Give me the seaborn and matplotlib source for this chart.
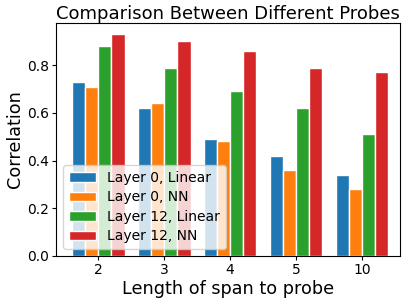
import pandas as pd
import matplotlib
matplotlib.use('Agg')
import matplotlib.pyplot as plt
import seaborn as sns

# Значения
spans = ['2', '3', '4', '5', '10']
layer0_linear = [0.73, 0.62, 0.49, 0.42, 0.34]
layer0_nn = [0.71, 0.64, 0.48, 0.36, 0.28]
layer12_linear = [0.88, 0.79, 0.69, 0.62, 0.51]
layer12_nn = [0.93, 0.90, 0.86, 0.79, 0.77]
probes = ['Layer 0, Linear', 'Layer 0, NN', 'Layer 12, Linear', 'Layer 12, NN']

series = [layer0_linear, layer0_nn, layer12_linear, layer12_nn]
df = pd.DataFrame([
    {'span': s, 'probe': p, 'corr': v}
    for p, vals in zip(probes, series)
    for s, v in zip(spans, vals)
])

fig, ax = plt.subplots(figsize=(4.03, 3.0), dpi=100)
sns.barplot(data=df, x='span', y='corr', hue='probe', order=spans,
            hue_order=probes, palette=sns.color_palette('tab10', 4),
            edgecolor='white', linewidth=1, saturation=1, ax=ax)

ax.set_xlim(-0.64, 4.58)
ax.set_title('Comparison Between Different Probes', fontsize=13, pad=3)
ax.set_xlabel('Length of span to probe', fontsize=12.7, labelpad=2)
ax.set_ylabel('Correlation', fontsize=12.7, labelpad=2)
ax.tick_params(labelsize=10, length=3, pad=2)
ax.legend(loc='lower left', fontsize=10, labelspacing=0.4)

fig.subplots_adjust(left=0.139, right=0.993, top=0.923, bottom=0.147)
fig.savefig('out.png', dpi=100)
